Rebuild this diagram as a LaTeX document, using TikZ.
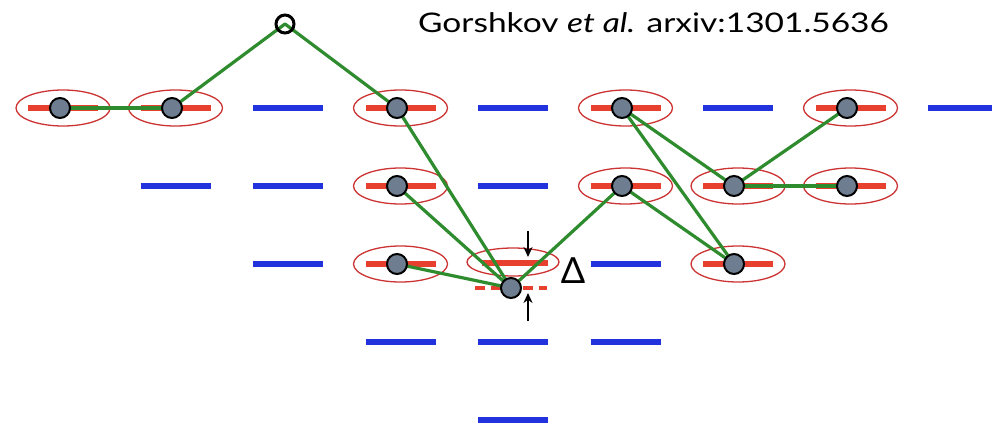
\documentclass[tikz,border=0pt]{standalone}
\usepackage{fontspec}
\setmainfont{Lato}
\newfontfamily\citefont[FakeStretch=1.24]{Lato}
\usetikzlibrary{arrows.meta}
\definecolor{lvlblue}{HTML}{2233DD}
\definecolor{lvlred}{HTML}{E8402E}
\definecolor{traprd}{HTML}{CC3333}
\definecolor{wiregreen}{HTML}{2E8B2E}
\definecolor{atomfill}{HTML}{6E7E90}
\tikzset{
  x=1pt,y=-1pt,
  bluelvl/.style={draw=lvlblue,line width=5.5pt},
  redlvl/.style={draw=lvlred,line width=5.5pt},
  trap/.style={draw=traprd,line width=1.3pt},
  wire/.style={draw=wiregreen,line width=3.2pt,line cap=round},
  atom/.style={circle,draw=black,line width=2pt,fill=atomfill,minimum size=20pt,inner sep=0pt},
  topatom/.style={circle,draw=black,line width=3pt,minimum size=18pt,inner sep=0pt},
  gap/.style={draw=black,line width=1.5pt,-{Stealth[length=10pt,width=9pt]}},
}
\newcommand{\bluebar}[2]{\draw[bluelvl] ({#1-35},#2) -- ({#1+35},#2);}
\newcommand{\trapped}[2]{%
  \draw[redlvl] ({#1-35},#2) -- ({#1+35},#2);
  \draw[trap] (#1,#2) ellipse [x radius=47, y radius=18];}
\begin{document}
\begin{tikzpicture}
\useasboundingbox (0,0) rectangle (992,428);
% columns: 63 + 112.5 i ; rows: 108,186,264,342,420
% blue empty levels
\bluebar{288}{108}
\bluebar{513}{108}
\bluebar{738}{108}
\bluebar{963}{108}
\bluebar{175.5}{186}
\bluebar{288}{186}
\bluebar{513}{186}
\bluebar{288}{264}
\bluebar{625.5}{264}
\bluebar{400.5}{342}
\bluebar{513}{342}
\bluebar{625.5}{342}
\bluebar{513}{420}
% occupied levels with traps
\trapped{63}{108}
\trapped{175.5}{108}
\trapped{400.5}{108}
\trapped{625.5}{108}
\trapped{850.5}{108}
\trapped{400.5}{186}
\trapped{625.5}{186}
\trapped{738}{186}
\trapped{850.5}{186}
\trapped{400.5}{264}
\trapped{738}{264}
% special trap with shifted level
\draw[redlvl] (482,263) -- (548,263);
\draw[trap] (513,262) ellipse [x radius=46, y radius=14];
\draw[lvlred,line width=3.5pt,dash pattern=on 10pt off 6pt] (475,288) -- (547,288);
% atom positions
\coordinate (a01) at (60,108);
\coordinate (a11) at (172,108);
\coordinate (top) at (285,24);
\coordinate (a31) at (397,108);
\coordinate (a32) at (397,186);
\coordinate (a33) at (397,264);
\coordinate (sp) at (511,288);
\coordinate (a51) at (622,108);
\coordinate (a52) at (622,186);
\coordinate (a62) at (734,186);
\coordinate (a63) at (734,264);
\coordinate (a71) at (847,108);
\coordinate (a72) at (847,186);
% green connections
\draw[wire] (a01) -- (a11);
\draw[wire] (a11) -- (top);
\draw[wire] (top) -- (a31);
\draw[wire] (a31) -- (sp);
\draw[wire] (a32) -- (sp);
\draw[wire] (a33) -- (sp);
\draw[wire] (sp) -- (a52);
\draw[wire] (a52) -- (a63);
\draw[wire] (a51) -- (a62);
\draw[wire] (a51) -- (a63);
\draw[wire] (a62) -- (a71);
\draw[wire] (a62) -- (a72);
% atoms
\foreach \p in {a01,a11,a31,a32,a33,sp,a51,a52,a62,a63,a71,a72}
  \node[atom] (n\p) at (\p) {};
\node[topatom] (ntop) at (top) {};
% gap arrows
\coordinate (g1) at (528,231);
\coordinate (g2) at (528,257);
\coordinate (g3) at (528,321);
\coordinate (g4) at (528,293);
\draw[gap] (g1) -- (g2);
\draw[gap] (g3) -- (g4);
\node[font=\fontsize{36}{40}\selectfont,inner sep=0pt] (delta) at (573,271) {Δ};
% citation
\node[anchor=base west,inner sep=0pt,font=\citefont\fontsize{27}{30}\selectfont] (cite) at (418,33)
  {Gorshkov \textit{et al.} arxiv:1301.5636};
\end{tikzpicture}
\end{document}
